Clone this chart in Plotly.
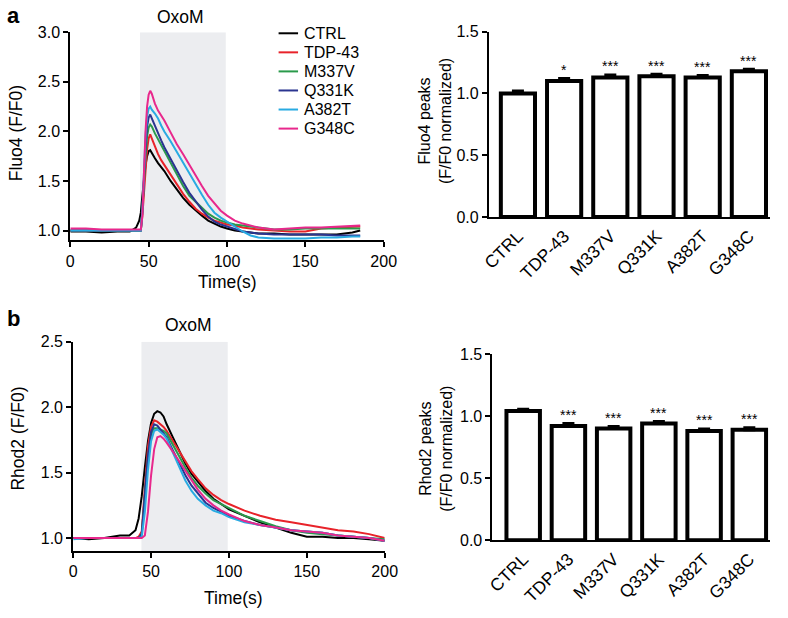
import plotly.graph_objects as go

W, H = 788, 618

def px(x):
    return x / W

def py(y):
    return 1 - y / H

SERIES = ["CTRL", "TDP-43", "M337V", "Q331K", "A382T", "G348C"]
COLORS = ["#000000", "#E8232A", "#2A9A4B", "#2B3590", "#29ABE2", "#E8288C"]

# Panel a: Fluo4 traces
A_T = [0, 10, 20, 30, 38, 42, 44, 45, 46, 47, 48, 49, 50, 51, 52, 54, 56, 58, 60, 64,
       68, 72, 76, 80, 84, 88, 92, 96, 100, 105, 110, 115, 120, 130, 140, 150, 160, 170, 180, 185]
A_CTRL = [0.99, 0.99, 0.98, 0.99, 0.99, 1.03, 1.10, 1.18, 1.35, 1.52, 1.66, 1.75, 1.80, 1.81, 1.78,
          1.73, 1.68, 1.64, 1.60, 1.50, 1.41, 1.33, 1.26, 1.20, 1.15, 1.10, 1.07, 1.04, 1.02, 1.00,
          0.99, 0.98, 0.97, 0.97, 0.96, 0.96, 0.96, 0.96, 0.98, 1.00]
A_TDP43 = [1.0, 1.0, 1.0, 1.0, 1.0, 1.0, 1.0, 1.0, 1.15, 1.40, 1.65, 1.82, 1.93, 1.97, 1.93,
           1.84, 1.77, 1.71, 1.66, 1.56, 1.46, 1.37, 1.29, 1.22, 1.17, 1.13, 1.10, 1.08, 1.06, 1.05,
           1.03, 1.02, 1.01, 1.00, 0.99, 0.99, 1.02, 1.03, 1.04, 1.04]
A_M337V = [1.0, 1.0, 1.0, 1.0, 1.0, 1.0, 1.0, 1.0, 1.2, 1.5, 1.75, 1.95, 2.04, 2.07, 2.05,
           1.98, 1.92, 1.86, 1.80, 1.68, 1.56, 1.45, 1.35, 1.29, 1.24, 1.17, 1.13, 1.10, 1.08, 1.06,
           1.05, 1.04, 1.03, 1.01, 1.01, 1.02, 1.02, 1.02, 1.02, 1.02]
A_Q331K = [1.0, 1.0, 1.0, 1.0, 1.0, 1.0, 1.0, 1.0, 1.2, 1.55, 1.85, 2.05, 2.14, 2.17, 2.13,
           2.06, 1.99, 1.91, 1.84, 1.72, 1.60, 1.49, 1.38, 1.29, 1.21, 1.14, 1.09, 1.06, 1.04, 1.01,
           0.99, 0.98, 0.97, 0.96, 0.96, 0.96, 0.96, 0.95, 0.95, 0.95]
A_A382T = [1.0, 1.0, 1.0, 1.0, 1.0, 1.0, 1.0, 1.0, 1.2, 1.6, 1.95, 2.15, 2.23, 2.25, 2.22,
           2.18, 2.13, 2.06, 2.00, 1.90, 1.79, 1.68, 1.58, 1.47, 1.36, 1.26, 1.18, 1.13, 1.09, 1.04,
           0.99, 0.95, 0.93, 0.92, 0.92, 0.92, 0.93, 0.93, 0.94, 0.94]
A_G348C = [1.02, 1.02, 1.01, 1.01, 1.01, 1.01, 1.01, 1.01, 1.15, 1.6, 2.0, 2.25, 2.37, 2.41, 2.38,
           2.28, 2.21, 2.16, 2.11, 1.99, 1.87, 1.77, 1.66, 1.55, 1.45, 1.35, 1.27, 1.20, 1.15, 1.10,
           1.07, 1.05, 1.03, 1.01, 1.02, 1.03, 1.03, 1.04, 1.05, 1.05]

# Panel b: Rhod2 traces
B_T = [0, 10, 20, 30, 36, 40, 42, 44, 46, 48, 50, 52, 54, 56, 58, 60, 64, 68, 72, 76,
       80, 85, 90, 95, 100, 110, 120, 130, 140, 150, 160, 170, 180, 190, 200]
B_CTRL = [1.0, 0.99, 1.0, 1.02, 1.02, 1.06, 1.15, 1.32, 1.54, 1.74, 1.88, 1.95, 1.97, 1.96, 1.93,
          1.87, 1.77, 1.67, 1.57, 1.49, 1.43, 1.36, 1.30, 1.26, 1.22, 1.17, 1.12, 1.08, 1.04, 1.01,
          1.01, 1.00, 1.00, 0.99, 0.98]
B_TDP43 = [1.0, 1.0, 1.0, 1.0, 1.0, 1.0, 1.01, 1.05, 1.38, 1.70, 1.85, 1.90, 1.89, 1.87, 1.85,
           1.82, 1.74, 1.66, 1.58, 1.51, 1.45, 1.38, 1.33, 1.29, 1.26, 1.21, 1.17, 1.14, 1.12, 1.10,
           1.08, 1.06, 1.05, 1.03, 1.00]
B_M337V = [1.0, 1.0, 1.0, 1.0, 1.0, 1.0, 1.0, 1.03, 1.30, 1.62, 1.79, 1.84, 1.84, 1.83, 1.82,
           1.80, 1.71, 1.62, 1.54, 1.46, 1.40, 1.34, 1.29, 1.26, 1.23, 1.17, 1.13, 1.09, 1.06, 1.04,
           1.03, 1.02, 1.01, 1.00, 0.99]
B_Q331K = [1.0, 1.0, 1.0, 1.0, 1.0, 1.0, 1.0, 1.03, 1.30, 1.63, 1.81, 1.87, 1.86, 1.83, 1.80,
           1.77, 1.67, 1.57, 1.48, 1.40, 1.34, 1.27, 1.23, 1.20, 1.17, 1.13, 1.10, 1.08, 1.06, 1.05,
           1.04, 1.02, 1.01, 1.00, 0.98]
B_A382T = [0.99, 1.0, 1.0, 1.0, 1.0, 1.0, 1.0, 1.01, 1.20, 1.52, 1.74, 1.82, 1.83, 1.81, 1.79,
           1.76, 1.65, 1.54, 1.44, 1.36, 1.30, 1.25, 1.21, 1.19, 1.16, 1.12, 1.10, 1.08, 1.06, 1.05,
           1.04, 1.02, 1.01, 1.00, 0.98]
B_G348C = [1.0, 1.0, 1.0, 1.0, 1.0, 1.0, 1.0, 1.0, 1.02, 1.20, 1.48, 1.68, 1.77, 1.78, 1.76,
           1.73, 1.66, 1.59, 1.51, 1.44, 1.37, 1.30, 1.25, 1.21, 1.18, 1.13, 1.10, 1.08, 1.06, 1.05,
           1.04, 1.02, 1.01, 1.00, 0.98]

# Bar charts
FLUO4_PEAKS = [1.00, 1.10, 1.13, 1.14, 1.13, 1.18]
FLUO4_ERR = [0.02, 0.02, 0.02, 0.015, 0.015, 0.015]
FLUO4_SIG = ["", "*", "***", "***", "***", "***"]
RHOD2_PEAKS = [1.04, 0.92, 0.90, 0.94, 0.88, 0.89]
RHOD2_ERR = [0.015, 0.02, 0.015, 0.015, 0.015, 0.015]
RHOD2_SIG = ["", "***", "***", "***", "***", "***"]

OXOM = [44.5, 99.2]

A_DATA = [A_CTRL, A_TDP43, A_M337V, A_Q331K, A_A382T, A_G348C]
B_DATA = [B_CTRL, B_TDP43, B_M337V, B_Q331K, B_A382T, B_G348C]

FONT = "Liberation Sans, Arial, Helvetica, sans-serif"
FS = 16      # tick labels, legend
FT = 17.5    # axis titles

fig = go.Figure()

for name, col, ys in zip(SERIES, COLORS, A_DATA):
    fig.add_trace(go.Scatter(x=A_T, y=ys, mode="lines", name=name,
                             line=dict(color=col, width=2),
                             xaxis="x", yaxis="y", showlegend=False))
for name, col, ys in zip(SERIES, COLORS, B_DATA):
    fig.add_trace(go.Scatter(x=B_T, y=ys, mode="lines", name=name,
                             line=dict(color=col, width=2),
                             xaxis="x2", yaxis="y2", showlegend=False))

bar_common = dict(marker=dict(color="white", line=dict(color="black", width=4)),
                  width=0.74, showlegend=False)
fig.add_trace(go.Bar(x=SERIES, y=FLUO4_PEAKS, xaxis="x3", yaxis="y3",
                     error_y=dict(type="data", array=FLUO4_ERR, color="black",
                                  thickness=3, width=6, symmetric=False,
                                  arrayminus=[0]*6),
                     **bar_common))
fig.add_trace(go.Bar(x=SERIES, y=RHOD2_PEAKS, xaxis="x4", yaxis="y4",
                     error_y=dict(type="data", array=RHOD2_ERR, color="black",
                                  thickness=3, width=6, symmetric=False,
                                  arrayminus=[0]*6),
                     **bar_common))

axis_style = dict(showline=True, linewidth=2, linecolor="black", ticks="outside",
                  ticklen=5, tickwidth=2, tickcolor="black", showgrid=False,
                  zeroline=False, tickfont=dict(family=FONT, size=FS, color="black"))
cat_style = {**axis_style, "ticks": "",
             "tickfont": dict(family=FONT, size=17.5, color="black")}

fig.update_layout(
    width=W, height=H,
    margin=dict(l=0, r=0, t=0, b=0),
    paper_bgcolor="white", plot_bgcolor="white",
    font=dict(family=FONT, color="black"),
    showlegend=False,
    xaxis=dict(domain=[px(64), px(386)], anchor="y", range=[0, 200],
               tickvals=[0, 50, 100, 150, 200], **axis_style),
    yaxis=dict(domain=[py(239), py(25)], anchor="x", range=[0.9, 3.0],
               tickvals=[1.0, 1.5, 2.0, 2.5, 3.0], tickformat=".1f", **axis_style),
    xaxis2=dict(domain=[px(67), px(387)], anchor="y2", range=[0, 200],
                tickvals=[0, 50, 100, 150, 200], **axis_style),
    yaxis2=dict(domain=[py(558.5), py(343.3)], anchor="x2", range=[0.9, 2.5],
                tickvals=[1.0, 1.5, 2.0, 2.5], tickformat=".1f", **axis_style),
    xaxis3=dict(domain=[px(494), px(783)], anchor="y3", type="category",
                range=[-0.63, 5.46], tickangle=-45, **cat_style),
    yaxis3=dict(domain=[py(215), py(24.3)], anchor="x3", range=[0, 1.5],
                tickvals=[0, 0.5, 1.0, 1.5], tickformat=".1f", **axis_style),
    xaxis4=dict(domain=[px(497.7), px(783)], anchor="y4", type="category",
                range=[-0.68, 5.46], tickangle=-45, **cat_style),
    yaxis4=dict(domain=[py(547.3), py(355.7)], anchor="x4", range=[0, 1.5],
                tickvals=[0, 0.5, 1.0, 1.5], tickformat=".1f", **axis_style),
)

shade = "#ECEDF0"
fig.add_shape(type="rect", xref="x", yref="y", x0=OXOM[0], x1=OXOM[1], y0=0.9, y1=3.0,
              fillcolor=shade, line=dict(width=0), layer="below")
fig.add_shape(type="rect", xref="x2", yref="y2", x0=OXOM[0] - 0.7, x1=OXOM[1], y0=0.9, y1=2.5,
              fillcolor=shade, line=dict(width=0), layer="below")

ann = []
def txt(x, y, t, size=FT, angle=0, bold=False, **kw):
    d = dict(x=px(x), y=py(y), xref="paper", yref="paper", text=t, showarrow=False,
             textangle=angle, font=dict(family=FONT, size=size, color="black"),
             xanchor="center", yanchor="middle")
    if bold:
        d["text"] = "<b>" + t + "</b>"
    d.update(kw)
    ann.append(d)

# legend (manual, top-left panel)
LEG_X0, LEG_X1, LEG_TX, LEG_Y0, LEG_DY = 278, 298, 302, 26, 19.6
for i, (name, col) in enumerate(zip(SERIES, COLORS)):
    yy = LEG_Y0 + i * LEG_DY
    fig.add_shape(type="line", xref="paper", yref="paper", x0=px(LEG_X0), x1=px(LEG_X1),
                  y0=py(yy), y1=py(yy), line=dict(color=col, width=2))
    txt(LEG_TX, yy, name, size=FS, xanchor="left")

txt(6, 8, "a", size=22, bold=True)
txt(6, 319, "b", size=22, bold=True)
txt(177, 9, "OxoM")
txt(185, 326, "OxoM")
txt(9, 129, "Fluo4 (F/F0)", angle=-90)
txt(10, 443, "Rhod2 (F/F0)", angle=-90)
txt(225, 282, "Time(s)")
txt(232, 607, "Time(s)")
txt(439, 116, "Fluo4 peaks<br>(F/F0 normalized)", size=FS, angle=-90)
txt(439, 453, "Rhod2 peaks<br>(F/F0 normalized)", size=FS, angle=-90)

for cat, v, e, s in zip(SERIES, FLUO4_PEAKS, FLUO4_ERR, FLUO4_SIG):
    if s:
        ann.append(dict(x=cat, y=v + e + 0.07, xref="x3", yref="y3", text=s, showarrow=False,
                        font=dict(family=FONT, size=14, color="black"), yanchor="middle"))
for cat, v, e, s in zip(SERIES, RHOD2_PEAKS, RHOD2_ERR, RHOD2_SIG):
    if s:
        ann.append(dict(x=cat, y=v + e + 0.07, xref="x4", yref="y4", text=s, showarrow=False,
                        font=dict(family=FONT, size=14, color="black"), yanchor="middle"))

fig.update_layout(annotations=ann)
fig.write_html("out.html", config={"displayModeBar": False},
               post_script="document.body.style.margin='0';document.body.style.overflow='hidden';")
